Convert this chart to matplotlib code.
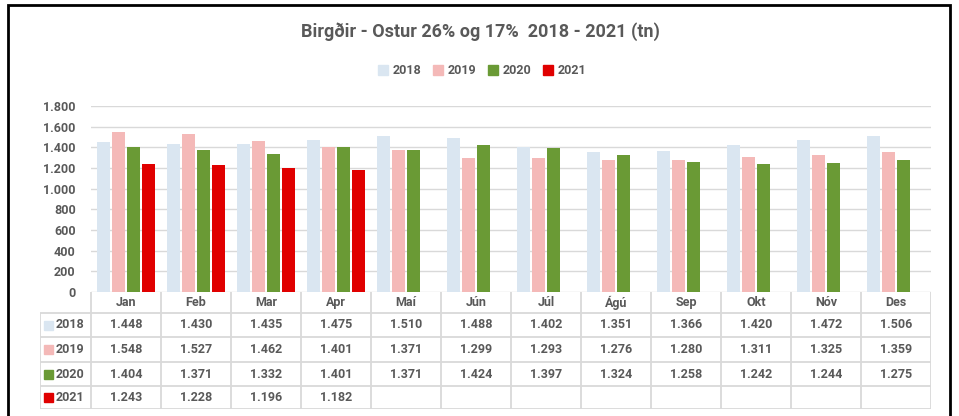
import matplotlib.pyplot as plt
from matplotlib.patches import Rectangle
import numpy as np

plt.rcParams['font.family'] = ['Roboto', 'DejaVu Sans']
plt.rcParams['font.weight'] = 'bold'

months = ["Jan", "Feb", "Mar", "Apr", "Maí", "Jún", "Júl", "Ágú", "Sep", "Okt", "Nóv", "Des"]
years = ["2018", "2019", "2020", "2021"]
v2018 = [1448, 1430, 1435, 1475, 1510, 1488, 1402, 1351, 1366, 1420, 1472, 1506]
v2019 = [1548, 1527, 1462, 1401, 1371, 1299, 1293, 1276, 1280, 1311, 1325, 1359]
v2020 = [1404, 1371, 1332, 1401, 1371, 1424, 1397, 1324, 1258, 1242, 1244, 1275]
v2021 = [1243, 1228, 1196, 1182]
colors = ["#DAE6F1", "#F4B9B8", "#6A9A35", "#E00000"]
series = [v2018, v2019, v2020, v2021]

W, H = 959, 416
fig = plt.figure(figsize=(W / 100, H / 100), dpi=100)
txt = "#595959"
grid = "#D9D9D9"
fs = 9

# outer frame
fig.patches.append(Rectangle((8 / W, -0.05), 942 / W, 1.05 - 5 / H, transform=fig.transFigure,
                             fill=False, ec="black", lw=2))

# plot area in pixels: x 91..931, y 106..292
ax = fig.add_axes([91 / W, (H - 292) / H, 840 / W, 186 / H])
x = np.arange(len(months))
pitch = 0.214
for i, (vals, c) in enumerate(zip(series, colors)):
    xs = x[:len(vals)] + (i - 1.5) * pitch
    ax.bar(xs, vals, width=pitch * 0.85, color=c, zorder=2)

ax.set_xlim(-0.5, 11.5)
ax.set_ylim(0, 1800)
ax.set_yticks(range(0, 1801, 200))
ax.set_yticklabels([f"{v:,}".replace(",", ".") for v in range(0, 1801, 200)])
ax.yaxis.grid(True, color=grid, lw=1, zorder=0)
ax.tick_params(axis="y", length=0, pad=11, labelsize=fs, labelcolor=txt)
ax.set_xticks([])
for s in ax.spines.values():
    s.set_visible(False)

fig.text(480 / W, 1 - 32 / H, "Birgðir - Ostur 26% og 17%  2018 - 2021 (tn)",
         ha="center", va="center", fontsize=13, color=txt, fontweight="bold")

# legend
handles = [Rectangle((0, 0), 1, 1, color=c) for c in colors]
fig.legend(handles, years, loc="center", bbox_to_anchor=(482 / W, 1 - 71 / H), ncol=4,
           frameon=False, fontsize=fs, labelcolor=txt, handlelength=0.8, handleheight=0.8,
           handletextpad=0.4, columnspacing=0.9)

# data table: x 40..931, y 292..409
lab_w = 51 / 70
tab = fig.add_axes([40 / W, (H - 409) / H, 891 / W, 117 / H])
tab.set_xlim(-0.5 - lab_w, 11.5)
tab.set_ylim(117, 0)
tab.axis("off")
rows_y = [0, 21, 45, 70, 94, 117]
lk = dict(color=grid, lw=1.3, solid_capstyle="butt")
for yy in rows_y[1:]:
    tab.plot([-0.5 - lab_w, 11.5], [yy, yy], **lk)
for xx in np.arange(-0.5, 12.0, 1.0):
    tab.plot([xx, xx], [0, 117], **lk)
tab.plot([-0.5 - lab_w] * 2, [21, 117], **lk)

for j, m in enumerate(months):
    tab.text(j, 10.5, m, ha="center", va="center", fontsize=fs, color=txt)
for i, (vals, c, yr) in enumerate(zip(series, colors, years)):
    yc = (rows_y[i + 1] + rows_y[i + 2]) / 2
    tab.add_patch(Rectangle((-0.5 - lab_w + 0.06, yc - 4.5), 0.12, 9, color=c))
    tab.text(-0.5 - lab_w + 0.22, yc, yr, ha="left", va="center", fontsize=fs, color=txt)
    for j, v in enumerate(vals):
        tab.text(j, yc, f"{v:,}".replace(",", "."), ha="center", va="center",
                 fontsize=fs, color=txt)

fig.savefig("out.png", dpi=100)
